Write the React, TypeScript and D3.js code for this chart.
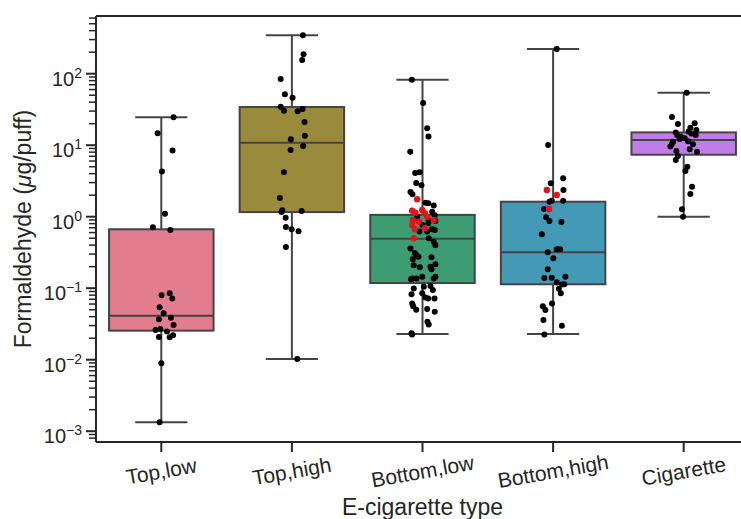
import React from 'react';
import * as d3 from 'd3';

const categories = ['Top,low', 'Top,high', 'Bottom,low', 'Bottom,high', 'Cigarette'];
const boxColors = ['#e27d90', '#9a8b3c', '#3d9c71', '#4499b6', '#c17de6'];

// box statistics (µg/puff)
const whiskerLow = [0.00133, 0.0102, 0.0229, 0.0229, 1.0];
const q1 = [0.0255, 1.16, 0.118, 0.1135, 7.36];
const medians = [0.0412, 10.8, 0.49, 0.318, 11.8];
const q3 = [0.667, 34.2, 1.06, 1.62, 15.1];
const whiskerHigh = [24.6, 344, 82.4, 221, 54.2];

// individual points: [value, jitter as fraction of category width]
const topLowPoints = [[24.6, 0.094], [14.7, -0.028], [8.4, 0.086], [4.3, 0.005], [1.1, 0.028], [0.71, -0.064], [0.65, 0.069], [0.08, 0.002], [0.085, 0.064], [0.072, 0.084], [0.054, -0.013], [0.0445, 0.018], [0.0367, -0.018], [0.0387, 0.074], [0.0306, 0.094], [0.026, -0.044], [0.0269, -0.008], [0.0247, 0.044], [0.0208, -0.018], [0.0206, 0.064], [0.022, 0.09], [0.0089, 0], [0.00133, -0.013]];
const topHighPoints = [[344, 0.084], [187, 0.089], [156, 0.079], [84, -0.086], [51.5, -0.054], [46, 0.005], [34.5, -0.086], [30.4, -0.061], [29.8, 0.044], [32, 0.082], [21.1, 0.097], [13.6, 0.099], [12.1, -0.008], [9.75, 0.086], [8.57, -0.01], [4.18, -0.061], [1.83, -0.092], [1.23, -0.074], [1.16, -0.079], [1.2, 0.074], [0.97, -0.048], [0.72, -0.046], [0.67, -0.002], [0.625, 0.051], [0.377, -0.046], [0.0102, 0.041]];
const bottomLowPoints = [[82.4, -0.082], [39, 0.005], [17.2, 0.036], [13.2, 0.046], [8.1, -0.094], [4.09, -0.056], [4.2, -0.021], [2.96, -0.048], [2.75, -0.008], [2.22, -0.092], [2.06, -0.077], [1.57, 0.023], [1.54, 0.044], [1.43, 0.086], [1.17, 0.074], [1.0, -0.041], [1.05, 0.094], [0.88, 0.048], [0.766, -0.002], [0.81, 0.044], [0.87, 0.099], [0.667, 0.074], [0.62, -0.023], [0.62, 0.036], [0.65, 0.094], [0.5, 0.048], [0.447, 0.086], [0.4, 0.099], [0.36, -0.092], [0.31, -0.059], [0.29, -0.046], [0.276, -0.031], [0.27, 0.069], [0.254, -0.074], [0.216, 0.099], [0.21, -0.067], [0.196, -0.021], [0.184, 0.069], [0.2, 0.061], [0.137, -0.079], [0.133, -0.088], [0.137, -0.046], [0.145, -0.002], [0.137, 0.086], [0.145, 0.099], [0.105, 0.01], [0.107, 0.061], [0.099, -0.067], [0.094, 0.079], [0.082, -0.084], [0.085, -0.002], [0.074, 0.023], [0.072, 0.044], [0.072, 0.092], [0.061, -0.079], [0.056, -0.071], [0.05, -0.048], [0.051, 0.036], [0.047, 0.094], [0.034, 0.038], [0.031, 0.048], [0.0235, -0.084], [0.0225, -0.079]];
const bottomLowRed = [[1.75, -0.041], [1.21, -0.079], [1.14, -0.054], [1.24, -0.002], [1.12, 0.018], [1.0, 0.036], [0.9, -0.074], [0.85, -0.028], [0.9, 0.086], [0.766, -0.079], [0.667, -0.059], [0.69, 0.018], [0.5, -0.067]];
const bottomHighPoints = [[221, 0.028], [10.1, -0.038], [2.93, -0.018], [3.44, 0.077], [2.36, 0.079], [1.67, 0.077], [1.62, -0.028], [1.67, -0.01], [1.28, -0.069], [0.98, -0.054], [0.87, -0.028], [0.84, 0.064], [0.57, -0.086], [0.35, 0.028], [0.35, 0.054], [0.318, -0.041], [0.262, 0.002], [0.184, -0.041], [0.139, -0.067], [0.14, -0.01], [0.145, 0.094], [0.121, 0.028], [0.113, 0.069], [0.114, 0.086], [0.098, 0.044], [0.085, 0.059], [0.061, -0.008], [0.056, -0.079], [0.0496, -0.059], [0.0359, -0.074], [0.0299, 0.067], [0.0225, -0.067]];
const bottomHighRed = [[2.36, -0.048], [2.01, 0.028], [1.28, -0.031]];
const cigarettePoints = [[54.2, 0.023], [24.8, -0.09], [19.8, -0.044], [20.2, 0.084], [17.6, 0.051], [16.3, 0.097], [15.5, 0.038], [15, -0.061], [13.9, -0.051], [13.2, -0.023], [12.5, 0.008], [13.9, 0.092], [14.6, 0.059], [12.2, -0.031], [11.4, 0.033], [11.2, -0.082], [10.3, -0.092], [9.6, -0.102], [10.3, 0.071], [8.77, 0.046], [8.1, 0.102], [8.3, -0.056], [7.06, -0.044], [6.2, -0.061], [5.0, 0.028], [4.35, 0.013], [2.63, 0.064], [2.08, 0.051], [1.27, -0.013], [1.0, -0.005]];

const blackPoints = [topLowPoints, topHighPoints, bottomLowPoints, bottomHighPoints, cigarettePoints];
const redPoints = [[], [], bottomLowRed, bottomHighRed, []];

const majorExponents = [-3, -2, -1, 0, 1, 2];

const width = 741;
const height = 519;
const margin = { top: 16, left: 96, bottom: 77 };
const plotRight = 749; // the right spine falls just outside the picture

const font = '"Liberation Sans", Arial, sans-serif';
const edge = '#444444';
const spine = '#262626';

export default function App() {
  const x = d3.scaleBand().domain(categories).range([margin.left, plotRight]).padding(0);
  const y = d3.scaleLog()
    .domain([Math.pow(10, -3.151), Math.pow(10, 2.807)])
    .range([height - margin.bottom, margin.top]);

  const bw = x.bandwidth();
  const boxW = bw * 0.8;
  const capW = boxW / 2;
  const [yMin, yMax] = y.domain();
  const minorTicks = [];
  for (let e = -4; e <= 2; e++) {
    for (let m = 2; m <= 9; m++) {
      const v = m * Math.pow(10, e);
      if (v >= yMin && v <= yMax) minorTicks.push(v);
    }
  }
  const bottom = height - margin.bottom;

  return (
    <svg width={width} height={height} style={{ position: 'absolute', left: 0, top: 0, background: '#fff' }}>
      {categories.map((c, i) => {
        const cx = x(c) + bw / 2;
        return (
          <g key={c}>
            <line x1={cx} x2={cx} y1={y(q3[i])} y2={y(whiskerHigh[i])} stroke={edge} strokeWidth={2} />
            <line x1={cx} x2={cx} y1={y(q1[i])} y2={y(whiskerLow[i])} stroke={edge} strokeWidth={2} />
            <line x1={cx - capW / 2} x2={cx + capW / 2} y1={y(whiskerHigh[i])} y2={y(whiskerHigh[i])} stroke={edge} strokeWidth={2} />
            <line x1={cx - capW / 2} x2={cx + capW / 2} y1={y(whiskerLow[i])} y2={y(whiskerLow[i])} stroke={edge} strokeWidth={2} />
            <rect x={cx - boxW / 2} y={y(q3[i])} width={boxW} height={y(q1[i]) - y(q3[i])}
              fill={boxColors[i]} stroke={edge} strokeWidth={2} />
            <line x1={cx - boxW / 2} x2={cx + boxW / 2} y1={y(medians[i])} y2={y(medians[i])} stroke={edge} strokeWidth={2} />
            {blackPoints[i].map((p, k) => (
              <circle key={'b' + k} cx={cx + p[1] * bw} cy={y(p[0])} r={3} fill="#000" />
            ))}
            {redPoints[i].map((p, k) => (
              <circle key={'r' + k} cx={cx + p[1] * bw} cy={y(p[0])} r={3.2} fill="#e4141b" />
            ))}
          </g>
        );
      })}

      {/* spines */}
      <line x1={margin.left} x2={plotRight} y1={margin.top} y2={margin.top} stroke={spine} strokeWidth={2} />
      <line x1={margin.left} x2={plotRight} y1={bottom} y2={bottom} stroke={spine} strokeWidth={2} />
      <line x1={margin.left} x2={margin.left} y1={margin.top} y2={bottom} stroke={spine} strokeWidth={2} />

      {/* y ticks */}
      {minorTicks.map((v, k) => (
        <line key={'m' + k} x1={margin.left - 7} x2={margin.left} y1={y(v)} y2={y(v)} stroke={spine} strokeWidth={1.5} />
      ))}
      {majorExponents.map((e) => (
        <g key={'M' + e}>
          <line x1={margin.left - 10} x2={margin.left} y1={y(Math.pow(10, e))} y2={y(Math.pow(10, e))} stroke={spine} strokeWidth={2} />
          <text x={82} y={y(Math.pow(10, e)) + 12} textAnchor="end" fontFamily={font} fontSize={20} fill="#262626">
            10<tspan fontSize={14} dy={-8}>{e < 0 ? '\u2212' + Math.abs(e) : String(e)}</tspan>
          </text>
        </g>
      ))}

      {/* x ticks */}
      {categories.map((c) => {
        const cx = x(c) + bw / 2;
        return (
          <g key={'x' + c}>
            <line x1={cx} x2={cx} y1={bottom} y2={bottom + 10} stroke={spine} strokeWidth={2} />
            <text transform={`translate(${cx},${bottom + 29}) rotate(-10)`} textAnchor="middle"
              dominantBaseline="central" fontFamily={font} fontSize={21} fill="#262626">{c}</text>
          </g>
        );
      })}

      <text x={(margin.left + plotRight) / 2} y={515} textAnchor="middle" fontFamily={font} fontSize={23} fill="#262626">
        E-cigarette type
      </text>
      <text transform={`translate(31,${(margin.top + bottom) / 2}) rotate(-90)`} textAnchor="middle"
        fontFamily={font} fontSize={23} fill="#262626">
        Formaldehyde (<tspan fontStyle="italic">{'\u03bc'}</tspan>g/puff)
      </text>
    </svg>
  );
}
